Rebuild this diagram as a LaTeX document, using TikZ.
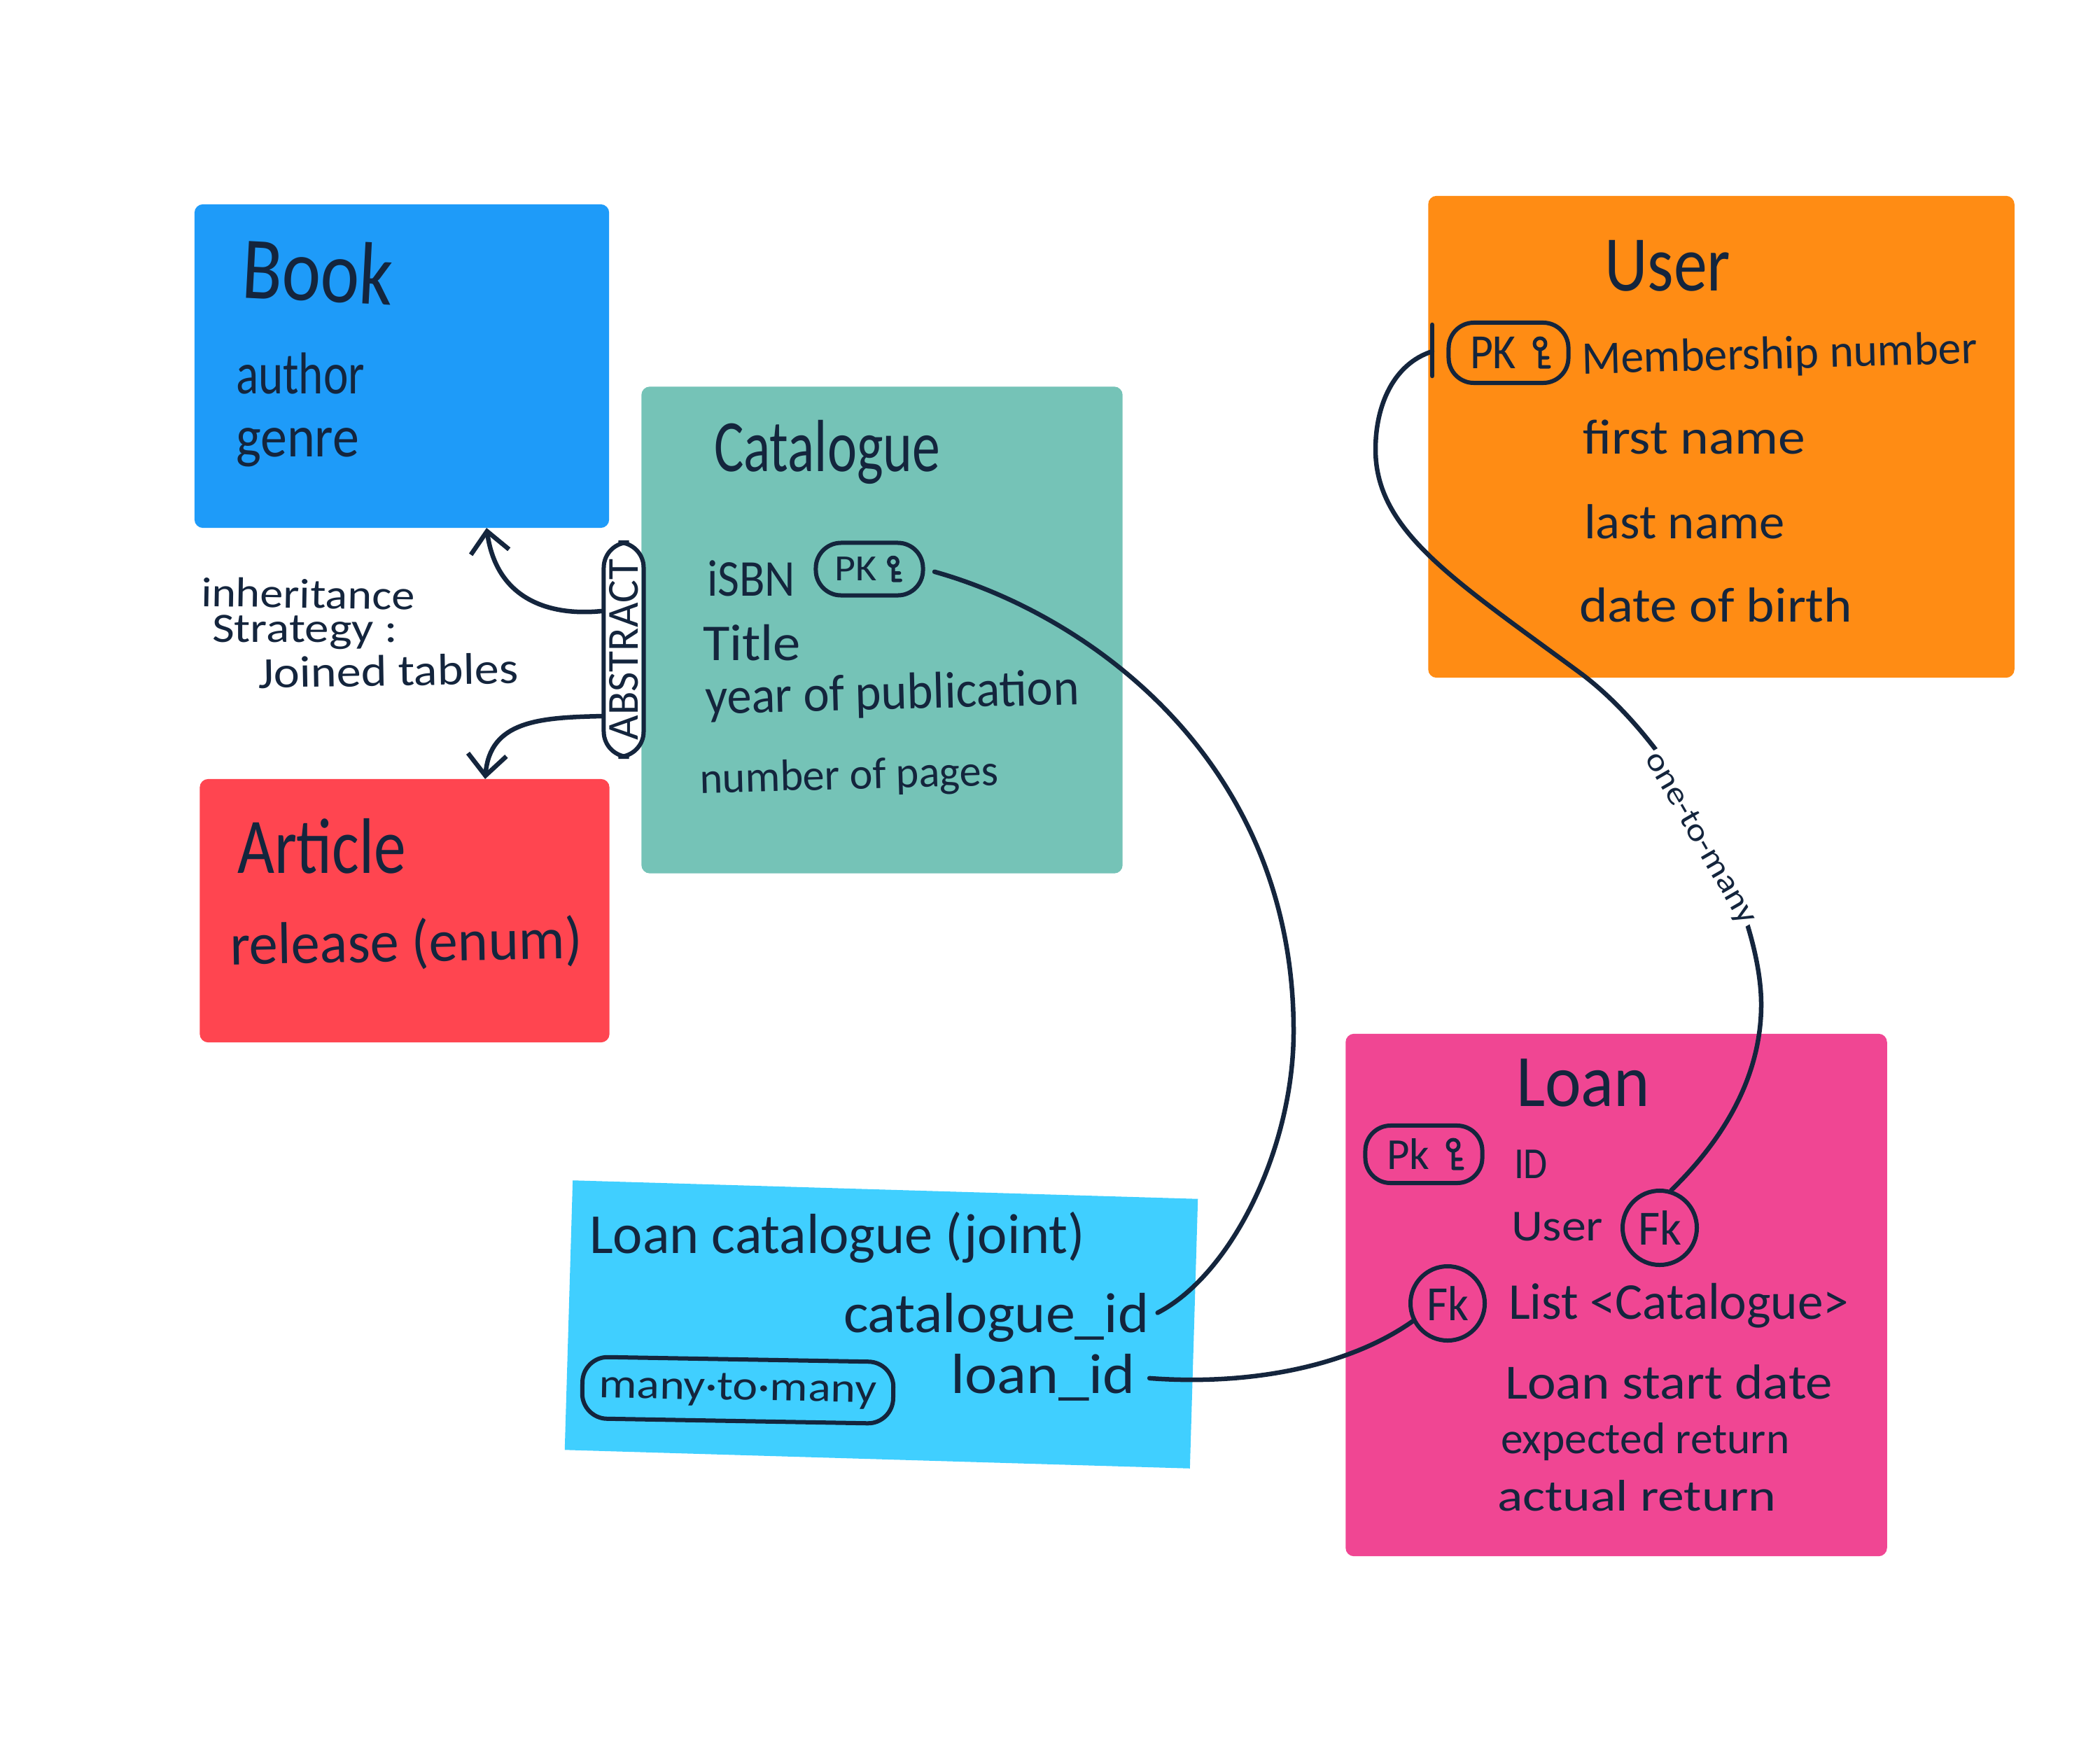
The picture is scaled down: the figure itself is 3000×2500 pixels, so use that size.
\documentclass[tikz,border=0pt]{standalone}
\usepackage{fontspec}
\usepackage{graphicx}
\setmainfont{Carlito}
\usetikzlibrary{arrows.meta,calc}
\definecolor{ink}{HTML}{14253D}
\definecolor{cBook}{HTML}{1E9BF9}
\definecolor{cCat}{HTML}{75C3B7}
\definecolor{cArt}{HTML}{FF4550}
\definecolor{cUser}{HTML}{FF8C14}
\definecolor{cLoan}{HTML}{F04693}
\definecolor{cJoint}{HTML}{40CFFF}
\newcommand\hw[3][20]{{\fontsize{#1}{#1}\selectfont\resizebox{#2cm}{\height}{#3}}}
\newcommand\keyicon[2]{\draw[keyline,shift={(#1)},scale=#2] (0,-13) circle[radius=8] (0,-5) -- (0,20) -- (13,20) (0,7) -- (11,7);}
\tikzset{
  block/.style={inner sep=0pt,outer sep=0pt,rounded corners=.12cm},
  lab/.style={anchor=base west,inner sep=0pt,outer sep=0pt,text=ink},
  wire/.style={draw=ink,line width=.065cm,line cap=round,line join=round},
  keyline/.style={draw=ink,line width=.05cm,line cap=round,line join=round},
  pill/.style={draw=ink,line width=.06cm,inner sep=0pt,rounded corners=.36cm,text=ink},
  fkring/.style={draw=ink,line width=.06cm,circle,inner sep=0pt,minimum size=1.06cm,text=ink},
  barb/.style={-{Straight Barb[length=.3cm,width=.55cm,line width=.065cm]}}
}
\begin{document}
\begin{tikzpicture}[x=.01cm,y=-.01cm]
\fill[white] (0,0) rectangle (3000,2500);
\useasboundingbox (0,0) rectangle (3000,2500);
% coloured tables
\node[block,fill=cBook,minimum width=5.92cm,minimum height=4.62cm] (book) at (574,523) {};
\node[block,fill=cCat,minimum width=6.87cm,minimum height=6.95cm] (catalogue) at (1260,900) {};
\node[block,fill=cArt,minimum width=5.85cm,minimum height=3.76cm] (article) at (578,1301) {};
\node[block,fill=cUser,minimum width=8.37cm,minimum height=6.88cm] (user) at (2459,624) {};
\node[block,fill=cLoan,minimum width=7.73cm,minimum height=7.46cm] (loan) at (2309,1850) {};
\node[block,fill=cJoint,minimum width=8.93cm,minimum height=3.85cm,rotate=-1.7,rounded corners=0pt] (joint) at (1259,1892) {};
% Book
\node[lab,rotate=-3] (tBook) at (344,425) {\hw[36]{2.16}{Book}};
\node[lab] (tAuthor) at (337,562) {\hw[24]{1.84}{author}};
\node[lab] (tGenre) at (337,652) {\hw[24]{1.76}{genre}};
% Catalogue
\node[lab] (tCat) at (1020,673) {\hw[30]{3.23}{Catalogue}};
\node[lab] (tIsbn) at (1010,851) {\hw[21]{1.26}{iSBN}};
\node[pill,minimum width=1.53cm,minimum height=.75cm] (pkCat) at (1242,813) {\hw[15]{.6}{PK}\kern.38cm};
\keyicon{$(pkCat.center)+(34,0)$}{.8}
\node[lab] (tTitle) at (1004,943) {\hw[21]{1.40}{Title}};
\node[lab,rotate=1.5] (tYear) at (1008,1020) {\hw[21]{5.34}{year of publication}};
\node[lab,rotate=1.5] (tPages) at (1000,1133) {\hw[18]{4.27}{number of pages}};
% Abstract
\node[pill,rotate=90,minimum width=3.06cm,minimum height=.57cm] (abs) at (891,928) {\hw[18]{2.58}{ABSTRACT}};
\draw[wire,barb] ([yshift=.55cm]abs.north) .. controls (790,880) and (710,860) .. ([xshift=1.21cm]book.south);
\draw[wire,barb] ([yshift=-.95cm]abs.north) .. controls (770,1025) and (700,1030) .. ([xshift=1.15cm]article.north);
\node[lab,rotate=-1] (tInh) at (287,866) {\hw[17]{3.05}{inheritance}};
\node[lab] (tStrat) at (303,917) {\hw[17]{2.65}{Strategy :}};
\node[lab,rotate=1] (tJoin) at (369,983) {\hw[18]{3.72}{Joined tables}};
% Article
\node[lab] (tArt) at (339,1247) {\hw[32]{2.41}{Article}};
\node[lab,rotate=1] (tRel) at (329,1378) {\hw[24]{5.03}{release (enum)}};
% User
\node[lab] (tUser) at (2292,415) {\hw[32]{1.80}{User}};
\node[pill,minimum width=1.71cm,minimum height=.86cm] (pkUser) at (2155,504) {\hw[20]{.66}{PK}\kern.44cm};
\keyicon{$(pkUser.center)+(45,0)$}{1}
\node[lab,rotate=1.5] (tMem) at (2260,534) {\hw[19]{5.65}{Membership number}};
\node[lab] (tFirst) at (2261,648) {\hw[20]{3.18}{first name}};
\node[lab] (tLast) at (2263,769) {\hw[20]{2.87}{last name}};
\node[lab] (tDob) at (2256,888) {\hw[20]{3.90}{date of birth}};
% Loan
\node[lab] (tLoan) at (2166,1580) {\hw[30]{1.91}{Loan}};
\node[pill,minimum width=1.67cm,minimum height=.82cm] (pkLoan) at (2034,1649) {\hw[18]{.61}{Pk}\kern.44cm};
\keyicon{$(pkLoan.center)+(42,0)$}{1}
\node[lab] (tId) at (2163,1683) {\hw[18]{.48}{ID}};
\node[lab] (tLUser) at (2159,1772) {\hw[18]{1.31}{User}};
\node[fkring] (fkA) at (2371,1754) {\hw[20]{.62}{Fk}};
\node[fkring] (fkB) at (2068,1862) {\hw[20]{.6}{Fk}};
\node[lab] (tList) at (2155,1884) {\hw[21]{4.86}{List <Catalogue>}};
\node[lab] (tStart) at (2150,1998) {\hw[20]{4.68}{Loan start date}};
\node[lab] (tExp) at (2144,2076) {\hw[18]{4.12}{expected return}};
\node[lab] (tAct) at (2139,2158) {\hw[18]{3.98}{actual return}};
% Joint
\node[lab] (tJoint) at (842,1790) {\hw[23]{7.08}{Loan catalogue (joint)}};
\node[lab] (tCatId) at (1205,1903) {\hw[23]{4.36}{catalogue\_id}};
\node[lab] (tLoanId) at (1358,1990) {\hw[23]{2.64}{loan\_id}};
\node[pill,rotate=-1,minimum width=4.44cm,minimum height=.88cm] (many) at (1054,1986) {\hw[17]{3.96}{many·to·many}};
% connectors
\draw[wire,shorten <=.14cm,shorten >=.14cm] (pkCat.east) .. controls (1560,880) and (1848,1090) .. (1848,1473) .. controls (1848,1640) and (1760,1820) .. (tCatId.east);
\draw[wire,shorten <=.2cm] (tLoanId.east) .. controls (1790,1980) and (1930,1950) .. (fkB.207);
\coordinate (tick) at (2046,502);
\draw[wire] ([yshift=.38cm]tick) -- ([yshift=-.35cm]tick);
\draw[wire] (tick) .. controls (1990,520) and (1965,580) .. (1965,642) .. controls (1965,760) and (2080,830) .. (2261,964) .. controls (2400,1070) and (2516,1300) .. (2516,1435) .. controls (2516,1540) and (2460,1630) .. (fkA.73);
\node[lab,anchor=center,fill=white,rotate=-60,inner sep=.03cm] (tOne) at (2428,1198) {\hw[13]{2.77}{one-to-many}};
\end{tikzpicture}
\end{document}
